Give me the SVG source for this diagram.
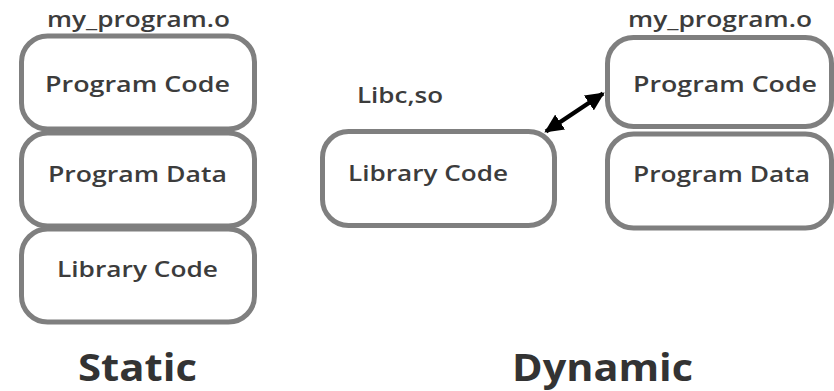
<svg xmlns="http://www.w3.org/2000/svg" width="834" height="391" viewBox="0 0 834 391">
  <style>
    .box { fill: #ffffff; stroke: #7f7f7f; stroke-width: 5; }
    .lbl { font-family: "Open Sans", "Liberation Sans", sans-serif; font-size: 21px; font-weight: 600; fill: #3c3c3c; text-anchor: middle; }
    .title { font-family: "Open Sans", "Liberation Sans", sans-serif; font-size: 38px; font-weight: 700; fill: #333333; text-anchor: middle; }
    .link { stroke: #000000; stroke-width: 4.5; fill: none; }
  </style>
  <defs>
    <marker id="head" markerUnits="userSpaceOnUse" markerWidth="20" markerHeight="18" refX="17" refY="9" orient="auto-start-reverse">
      <path d="M0,0 L19,9 L0,18 Z" fill="#000000"/>
    </marker>
  </defs>
  <rect width="834" height="391" fill="#ffffff"/>

  <!-- Static linking: one object file holding everything -->
  <g id="static-file">
    <text class="lbl" x="138.5" y="27" textLength="183" lengthAdjust="spacingAndGlyphs">my_program.o</text>
  </g>
  <g id="static-program-code">
    <rect class="box" x="21.5" y="36" width="233" height="93" rx="26"/>
    <text class="lbl" x="137.5" y="92" textLength="185" lengthAdjust="spacingAndGlyphs">Program Code</text>
  </g>
  <g id="static-program-data">
    <rect class="box" x="21.5" y="133" width="233" height="93" rx="26"/>
    <text class="lbl" x="137.5" y="182" textLength="179" lengthAdjust="spacingAndGlyphs">Program Data</text>
  </g>
  <g id="static-library-code">
    <rect class="box" x="21.5" y="229" width="233" height="93" rx="26"/>
    <text class="lbl" x="137.5" y="277" textLength="161" lengthAdjust="spacingAndGlyphs">Library Code</text>
  </g>
  <g id="static-title">
    <text class="title" x="137.5" y="381" textLength="119" lengthAdjust="spacingAndGlyphs">Static</text>
  </g>

  <!-- Dynamic linking: shared library kept apart from the object file -->
  <g id="dynamic-lib">
    <text class="lbl" x="400" y="103" textLength="86" lengthAdjust="spacingAndGlyphs">Libc,so</text>
    <rect class="box" x="322.5" y="131.5" width="232" height="94" rx="26"/>
    <text class="lbl" x="428" y="181" textLength="160" lengthAdjust="spacingAndGlyphs">Library Code</text>
  </g>
  <g id="dynamic-file">
    <text class="lbl" x="720" y="27" textLength="184" lengthAdjust="spacingAndGlyphs">my_program.o</text>
  </g>
  <g id="dynamic-program-code">
    <rect class="box" x="607.5" y="37.5" width="224" height="89" rx="26"/>
    <text class="lbl" x="725" y="92" textLength="184" lengthAdjust="spacingAndGlyphs">Program Code</text>
  </g>
  <g id="dynamic-program-data">
    <rect class="box" x="607.5" y="134" width="224" height="94" rx="26"/>
    <text class="lbl" x="721.5" y="182" textLength="177" lengthAdjust="spacingAndGlyphs">Program Data</text>
  </g>
  <g id="dynamic-title">
    <text class="title" x="602.5" y="381" textLength="181" lengthAdjust="spacingAndGlyphs">Dynamic</text>
  </g>

  <!-- Connectors -->
  <g id="connectors">
    <line class="link" x1="546" y1="131.5" x2="603" y2="93.5" marker-start="url(#head)" marker-end="url(#head)"/>
  </g>
</svg>
